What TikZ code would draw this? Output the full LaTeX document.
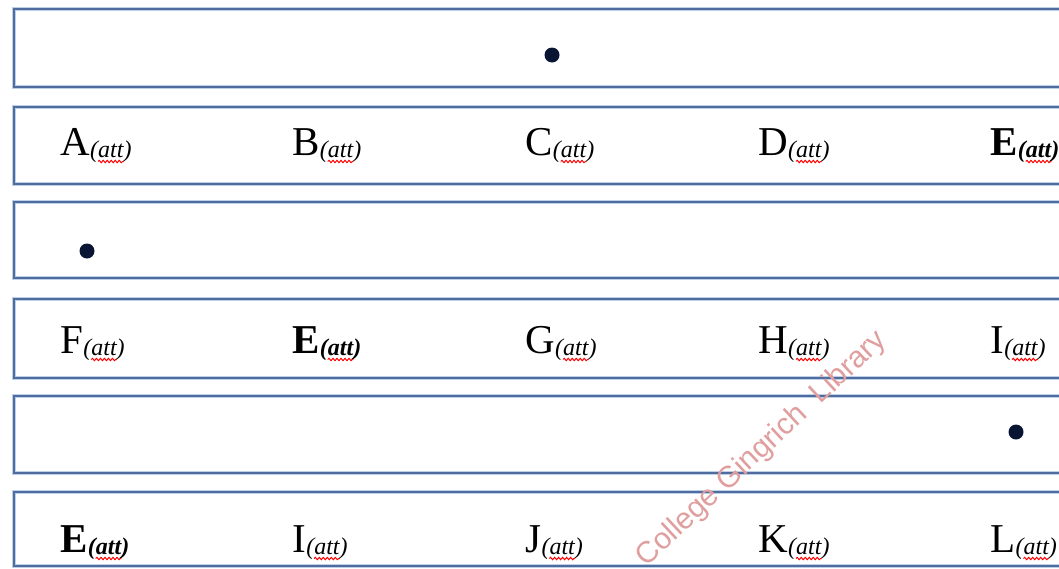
\documentclass[tikz,border=0pt]{standalone}
\usepackage{fontspec}
\setmainfont{Liberation Serif}
\newfontfamily\wmfont{Liberation Sans}
\usetikzlibrary{decorations.pathmorphing}
\definecolor{boxblue}{RGB}{79,108,158}
\definecolor{boxhalo}{RGB}{190,208,232}
\definecolor{dotnavy}{RGB}{8,22,52}
\definecolor{wmred}{RGB}{224,158,158}
\newcommand\cellnode[5]{%
  \node[lbl,font=#5\fontsize{41}{41}\selectfont] (#1) at (#2,#3) {#4};
  \node[lbl,font=#5\fontsize{24}{24}\selectfont\itshape] (#1a) at ([yshift=-2pt]#1.base east) {(att)};
  \draw[wavy] ([xshift=8pt,yshift=-4.5pt]#1a.base west) -- ([xshift=-8pt,yshift=-4.5pt]#1a.base east);
}
\begin{document}
\begin{tikzpicture}[x=1pt,y=-1pt,
  rowbox/.style={draw=boxblue, line width=2.2pt, preaction={draw=boxhalo, line width=4pt}},
  lbl/.style={anchor=base west, inner sep=0pt, text=black},
  wavy/.style={draw=red, line width=1pt, decorate, decoration={snake, amplitude=1.2pt, segment length=4pt}},
  dot/.style={circle, fill=dotnavy, inner sep=0pt, minimum size=15pt},
  wm/.style={text=wmred, font=\wmfont\fontsize{30}{30}\selectfont, inner sep=0pt}]
\useasboundingbox (0,0) rectangle (1059,568);
\clip (0,0) rectangle (1059,568);
\fill[white] (0,0) rectangle (1059,568);
% rows
\draw[rowbox] (14,9) rectangle (1080,87);
\draw[rowbox] (14,107) rectangle (1080,184);
\draw[rowbox] (14,202) rectangle (1080,278);
\draw[rowbox] (14,299) rectangle (1080,378);
\draw[rowbox] (14,396) rectangle (1080,473);
\draw[rowbox] (14,492) rectangle (1080,566);
% dots
\node[dot] (d1) at (552,55) {};
\node[dot] (d2) at (87,251) {};
\node[dot] (d3) at (1016,432) {};
% row 2 labels
\cellnode{a}{60}{155}{A}{}
\cellnode{b}{292}{155}{B}{}
\cellnode{c}{525}{155}{C}{}
\cellnode{d}{758}{155}{D}{}
\cellnode{e}{990}{155}{E}{\bfseries}
% row 4 labels
\cellnode{f}{60}{353}{F}{}
\cellnode{e2}{292}{353}{E}{\bfseries}
\cellnode{g}{525}{353}{G}{}
\cellnode{h}{758}{353}{H}{}
\cellnode{i}{990}{353}{I}{}
% row 6 labels
\cellnode{e3}{60}{552}{E}{\bfseries}
\cellnode{i2}{292}{552}{I}{}
\cellnode{j}{525}{552}{J}{}
\cellnode{k}{758}{552}{K}{}
\cellnode{l}{990}{552}{L}{}
% watermark
\node[wm, rotate=43] (wm) at (762,449) {College Gingrich\ \ Library};
\end{tikzpicture}
\end{document}
